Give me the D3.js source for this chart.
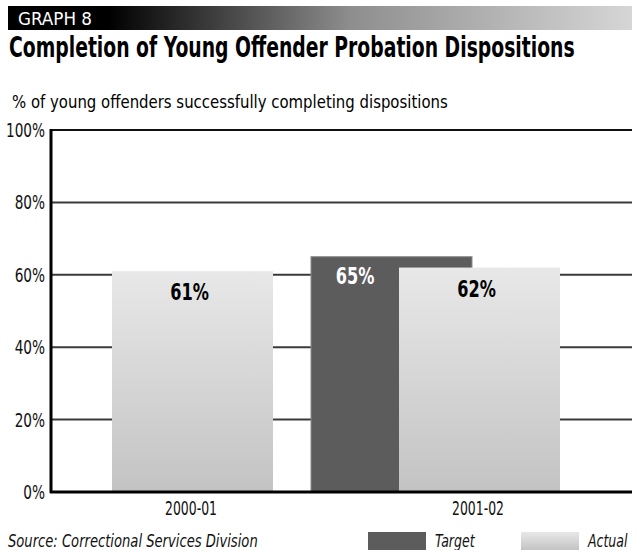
<!DOCTYPE html>
<html><head><meta charset="utf-8">
<script src="https://cdn.jsdelivr.net/npm/d3@7"></script>
<style>body{margin:0;background:#fff}svg{display:block}</style>
</head><body>
<svg id="c" width="638" height="550"></svg>
<script>
const categories = ["2000-01", "2001-02"];
const seriesNames = ["Target", "Actual"];
const targetValues = [null, 65];
const actualValues = [61, 62];
const yTicks = [0, 20, 40, 60, 80, 100];

const FONT = "'DejaVu Sans Condensed','Liberation Sans Narrow',sans-serif";
const svg = d3.select("#c");
const defs = svg.append("defs");

// text helper: horizontally condensed text via transform
function addText(parent, o) {
  const t = parent.append("text")
    .attr("font-family", FONT)
    .attr("font-size", o.size)
    .attr("font-weight", o.weight || "normal")
    .attr("font-style", o.style || "normal")
    .attr("fill", o.fill || "#111")
    .attr("text-anchor", o.anchor || "start")
    .text(o.text);
  let sx = o.sx || 0.82;
  if (o.width) {
    const len = t.node().getComputedTextLength();
    sx = o.width / len;
  }
  t.attr("transform", `translate(${o.x},${o.y}) scale(${sx},1)`);
  return t;
}

const hg = defs.append("linearGradient").attr("id","hdr").attr("x1","0").attr("x2","1").attr("y1","0").attr("y2","0");
hg.append("stop").attr("offset","0%").attr("stop-color","#000");
hg.append("stop").attr("offset","16%").attr("stop-color","#000");
hg.append("stop").attr("offset","55%").attr("stop-color","#8e8e8e");
hg.append("stop").attr("offset","100%").attr("stop-color","#d6d6d6");

const bg = defs.append("linearGradient").attr("id","bar").attr("x1","0").attr("x2","0").attr("y1","0").attr("y2","1");
bg.append("stop").attr("offset","0%").attr("stop-color","#e8e8e8");
bg.append("stop").attr("offset","100%").attr("stop-color","#c3c3c3");

// header
svg.append("rect").attr("x",8).attr("y",6).attr("width",624).attr("height",24).attr("fill","url(#hdr)");
addText(svg, {x:18, y:25, size:18, fill:"#fff", text:"GRAPH 8", width:74});
addText(svg, {x:9, y:57, size:28, weight:"bold", fill:"#000", width:566,
  text:"Completion of Young Offender Probation Dispositions"});
addText(svg, {x:12, y:108, size:18, fill:"#000", width:436,
  text:"% of young offenders successfully completing dispositions"});

// scales
const y = d3.scaleLinear().domain([0,100]).range([492,130]);
const x = d3.scaleBand().domain(categories).range([49.5,623.5]).padding(0);
const barW = 161;
const sub = d3.scalePoint().domain(seriesNames).range([-169,-81]);

// gridlines
svg.append("g").selectAll("line").data(yTicks.filter(d=>d>0)).join("line")
  .attr("x1",51).attr("x2",632).attr("y1",d=>y(d)).attr("y2",d=>y(d))
  .attr("stroke",d=>d===100?"#111":"#3a3a3a").attr("stroke-width",2);

// y tick labels
const gy = svg.append("g");
yTicks.forEach(d => addText(gy, {x:45, y:y(d)+7, size:19, anchor:"end", sx:0.8, text:d+"%"}));

// bars
const cx = c => x(c) + x.bandwidth()/2;
const gBars = svg.append("g");
categories.forEach((c,i)=>{
  if (targetValues[i] != null) {
    gBars.append("rect").attr("x",cx(c)+sub("Target")).attr("y",y(targetValues[i]))
      .attr("width",barW).attr("height",y(0)-y(targetValues[i]))
      .attr("fill","#5c5c5c").attr("stroke","#8a8a8a").attr("stroke-width",1);
  }
  if (actualValues[i] != null) {
    gBars.append("rect").attr("x",cx(c)+sub("Actual")).attr("y",y(actualValues[i]))
      .attr("width",barW).attr("height",y(0)-y(actualValues[i]))
      .attr("fill","url(#bar)");
  }
});
// value labels
categories.forEach((c,i)=>{
  if (targetValues[i] != null) {
    addText(svg, {x:cx(c)+sub("Target")+44, y:y(targetValues[i])+27, size:23, weight:"bold",
      anchor:"middle", fill:"#fff", sx:0.78, text:targetValues[i]+"%"});
  }
  if (actualValues[i] != null) {
    addText(svg, {x:cx(c)+sub("Actual")+barW/2-3, y:y(actualValues[i])+29, size:23, weight:"bold",
      anchor:"middle", fill:"#000", sx:0.78, text:actualValues[i]+"%"});
  }
});

// axes
svg.append("line").attr("x1",51).attr("x2",51).attr("y1",129).attr("y2",493).attr("stroke","#000").attr("stroke-width",3);
svg.append("line").attr("x1",50).attr("x2",632).attr("y1",492).attr("y2",492).attr("stroke","#000").attr("stroke-width",3);

// x labels
const gx = svg.append("g");
categories.forEach(c => addText(gx, {x:cx(c)-2, y:515, size:19, anchor:"middle", width:52, text:c}));

// source
addText(svg, {x:8, y:547, size:17, style:"italic", width:250, text:"Source:  Correctional Services Division"});

// legend
const legendX = [368, 521];
seriesNames.forEach((s,i)=>{
  svg.append("rect").attr("x",legendX[i]).attr("y",532).attr("width",58).attr("height",18)
    .attr("fill", s==="Target" ? "#5c5c5c" : "url(#bar)");
  addText(svg, {x:legendX[i]+67, y:547, size:17, style:"italic", sx:0.82, text:s});
});
</script>
</body></html>
